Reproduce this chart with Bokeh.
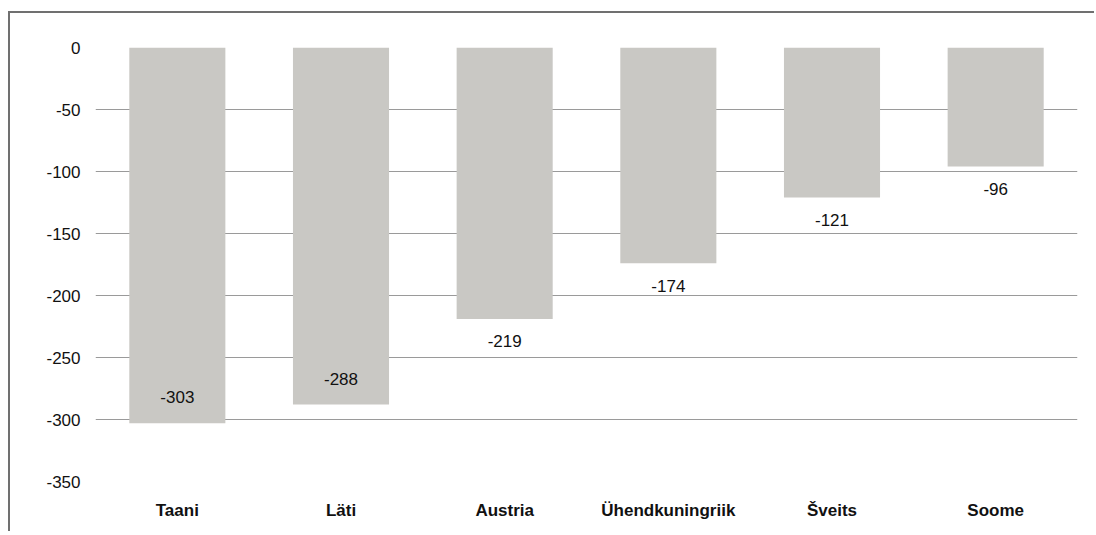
from bokeh.plotting import figure
from bokeh.models import ColumnDataSource, FactorRange, Range1d, FixedTicker
from bokeh.core.properties import value
from bokeh.embed import file_html
from bokeh.resources import INLINE

categories = ["Taani", "Läti", "Austria", "Ühendkuningriik", "Šveits", "Soome"]
values = [-303, -288, -219, -174, -121, -96]
y_ticks = [0, -50, -100, -150, -200, -250, -300, -350]

FONT = "Liberation Sans"

# label placement: long bars get the label inside, others just below the bar end
label_y = [v + 21 if v < -250 else v - 18 for v in values]
source = ColumnDataSource(dict(cat=categories, val=values,
                               ly=label_y, txt=[str(v) for v in values]))

p = figure(x_range=FactorRange(*categories, range_padding=0),
           y_range=Range1d(-350, 0),
           width=1086, height=520,
           output_backend="svg", toolbar_location=None,
           min_border_left=85, min_border_right=19,
           min_border_top=34, min_border_bottom=52)
p.styles = {"border-top": "2px solid #707070",
            "border-left": "2px solid #707070",
            "margin-top": "11px", "margin-left": "8px"}
p.outline_line_color = None
p.background_fill_color = "white"
p.border_fill_color = "white"

p.vbar(x="cat", top="val", bottom=0, width=0.587, source=source,
       fill_color="#c9c8c4", line_color=None)

p.text(x="cat", y="ly", text="txt", source=source,
       text_align="center", text_baseline="middle",
       text_font=value(FONT), text_font_size="17px", text_color="#111111")

p.xgrid.grid_line_color = None
p.ygrid.grid_line_color = "#9a9a9a"
p.ygrid.grid_line_width = 1
p.ygrid.ticker = FixedTicker(ticks=y_ticks)

p.yaxis.ticker = FixedTicker(ticks=y_ticks)
p.yaxis.major_label_overrides = {t: str(t) for t in y_ticks}
p.yaxis.axis_line_color = None
p.yaxis.major_tick_line_color = None
p.yaxis.minor_tick_line_color = None
p.yaxis.major_label_text_font = FONT
p.yaxis.major_label_text_font_size = "17px"
p.yaxis.major_label_text_color = "#111111"
p.yaxis.major_label_standoff = 9

p.xaxis.axis_line_color = None
p.xaxis.major_tick_line_color = None
p.xaxis.minor_tick_line_color = None
p.xaxis.major_label_text_font = FONT
p.xaxis.major_label_text_font_size = "17px"
p.xaxis.major_label_text_font_style = "bold"
p.xaxis.major_label_text_color = "#111111"
p.xaxis.major_label_standoff = 13

open("out.html", "w").write(file_html(p, INLINE))
